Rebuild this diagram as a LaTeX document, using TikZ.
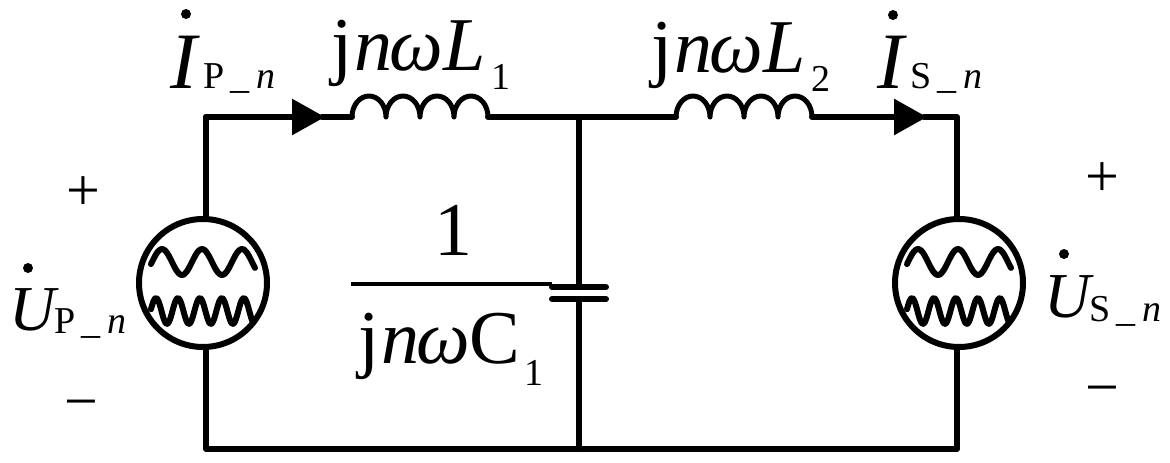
\documentclass[tikz,border=0pt]{standalone}
\usepackage{fontspec}
\setmainfont{Liberation Serif}
\usepackage{tikz}
\usetikzlibrary{arrows.meta, positioning}

\newcommand{\coilpath}{\foreach \k in {1,...,4}{arc[start angle=180, end angle=0, x radius=17pt, y radius=21pt]}}
\newcommand{\subP}{\textup{P}\,\_\,\textit{n}}
\newcommand{\subS}{\textup{S}\,\_\,\textit{n}}

\begin{document}
\begin{tikzpicture}[
		x=1pt, y=-1pt,
		wire/.style={
			line width=6pt,
			line cap=round,
			line join=round
		},
		coil/.style={
			line width=5pt,
			line join=round
		},
		arrow/.style={
			wire,
			-{Triangle[length=33pt, width=35pt, sep=0pt]},
			shorten >=-3pt
		},
		source/.style={
			circle,
			draw=black,
			line width=6pt,
			minimum size=128pt,
			inner sep=0pt
		},
		wave/.style={
			line width=6pt,
			line cap=round,
			line join=round
		},
		plate/.style={
			line width=6pt,
			line cap=round
		},
		dotmark/.style={
			circle,
			fill=black,
			inner sep=0pt,
			minimum size=10pt
		},
		big/.style={
			anchor=base west,
			inner sep=0pt,
			font=\fontsize{80}{80}\selectfont\itshape
		},
		mid/.style={
			anchor=base west,
			inner sep=0pt,
			font=\fontsize{76}{76}\selectfont\itshape
		},
		vol/.style={
			anchor=base west,
			inner sep=0pt,
			font=\fontsize{64}{64}\selectfont\itshape
		},
		small/.style={
			anchor=base west,
			inner sep=0pt,
			font=\fontsize{38}{38}\selectfont
		},
		sign/.style={
			inner sep=0pt,
			font=\fontsize{60}{60}\selectfont
		}
	]
	\useasboundingbox (0,0) rectangle (1170,463);

	\node[source] (srcP) at (203,283) {};
	\node[source, right=622pt of srcP] (srcS) {};

	\coordinate (topL) at (206,117);
	\coordinate (topM) at (579,117);
	\coordinate (topR) at (957,117);
	\coordinate (botL) at (206,449);
	\coordinate (botM) at (579,449);
	\coordinate (botR) at (957,449);
	\coordinate (tipP) at (322,117);
	\coordinate (tipS) at (924,117);
	\coordinate (coilPa) at (352,117);
	\coordinate (coilPb) at (488,117);
	\coordinate (coilSa) at (676,117);
	\coordinate (coilSb) at (812,117);
	\coordinate (capA) at (579,287);
	\coordinate (capB) at (579,299);

	% outer loop
	\draw[wire] (topL |- srcP.north) -- (topL);
	\draw[arrow] (topL) -- (tipP);
	\draw[wire] (tipP) -- (coilPa);
	\draw[wire] (coilPb) -- (topM) -- (coilSa);
	\draw[arrow] (coilSb) -- (tipS);
	\draw[wire] (tipS) -- (topR) -- (topR |- srcS.north);
	\draw[wire] (topR |- srcS.south) -- (botR) -- (botL) -- (botL |- srcP.south);

	\draw[coil] (coilPa) \coilpath;
	\draw[coil] (coilSa) \coilpath;

	% capacitor branch
	\draw[wire] (topM) -- (capA);
	\draw[wire] (capB) -- (botM);
	\draw[plate] (552,287) -- (606,287);
	\draw[plate] (552,299) -- (606,299);
	\draw[line width=4pt] (351,284) -- (552,284);

	% waves in the sources
	\foreach \src in {srcP, srcS}{
		\draw[wave, shift={(\src.center)}] plot[domain=-52:52, samples=60, smooth] (\x, {-21-13*cos((\x+41)*9)});
		\draw[wave, shift={(\src.center)}] plot[domain=-52:50, samples=80, smooth] (\x, {28-13*cos((\x+47)*16.4)});
	}

	% labels
	\node[big] (curP) at (170,88) {I};
	\node[small, right=6pt of curP.base east, anchor=base west] (curPsub) {\subP};
	\node[dotmark] (curPdot) at (186,14) {};
	\node[big] (curS) at (877,88) {I};
	\node[small, right=6pt of curS.base east, anchor=base west] (curSsub) {\subS};
	\node[dotmark] (curSdot) at (893,15) {};

	\node[mid] (zP) at (331,70) {\textup{j}\kern2pt n\kern-3pt ω\kern1pt L};
	\node[small, anchor=base west] (zPsub) at (491,89) {1};
	\node[mid] (zS) at (651,72) {\textup{j}\kern2pt n\kern-3pt ω\kern1pt L};
	\node[small, anchor=base west] (zSsub) at (811,91) {2};

	\node[vol] (volP) at (9,330) {U};
	\node[small, anchor=base west] (volPsub) at (54,333) {\subP};
	\node[dotmark] (volPdot) at (28,268) {};
	\node[vol] (volS) at (1044,317) {U};
	\node[small, anchor=base west] (volSsub) at (1089,321) {\subS};
	\node[dotmark] (volSdot) at (1064,254) {};

	\node[mid, anchor=base] (numC) at (453,255) {\textup{1}};
	\node[mid] (denC) at (358,363) {\textup{j}\kern2pt n\kern-3pt ω\textup{C}};
	\node[small, anchor=base west] (denCsub) at (524,385) {1};

	\node[sign] (plusP) at (83,194) {+};
	\node[sign] (minusP) at (81,411) {−};
	\node[sign] (plusS) at (1102,180) {+};
	\node[sign] (minusS) at (1102,397) {−};
\end{tikzpicture}
\end{document}
